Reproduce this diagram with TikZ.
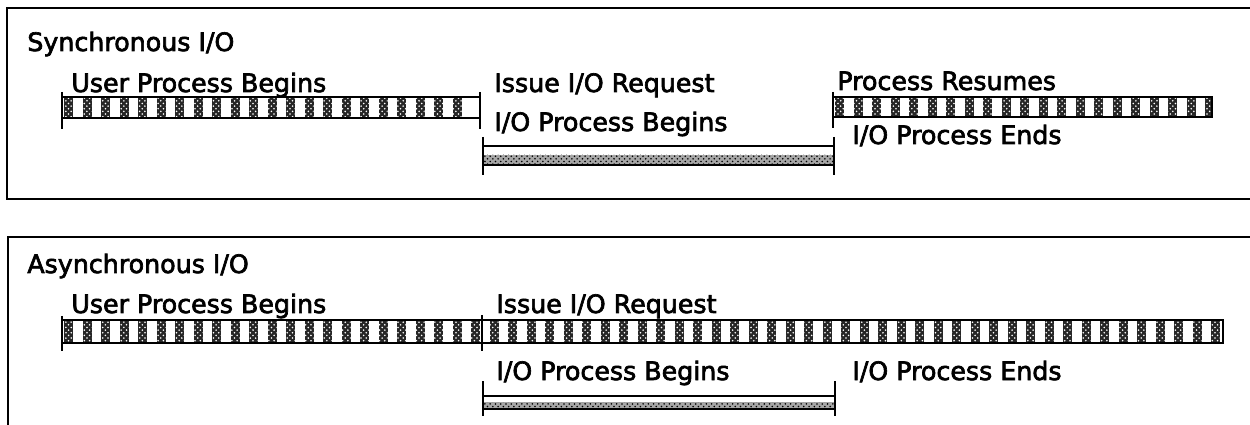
\documentclass[tikz,border=0pt]{standalone}
\usepackage{fontspec}
\setmainfont[FakeBold=2.6]{DejaVu Sans}
\usetikzlibrary{patterns}

\tikzset{
  lbl/.style={font=\fontsize{14.4}{16}\selectfont, anchor=base west, inner sep=0pt},
  frame/.style={line width=1.7pt},
  endtick/.style={line width=1.5pt},
  barframe/.style={draw, line width=1.6pt},
  block/.style={fill=black!85},
  blockdots/.style={pattern=crosshatch dots, pattern color=white},
  iodots/.style={pattern=crosshatch dots, pattern color=black},
}

\begin{document}
\begin{tikzpicture}[x=0.02cm, y=-0.02cm]
  \clip (0,0) rectangle (1250,425);
  \fill[white] (0,0) rectangle (1250,425);

  % frames, both run off the right edge
  \draw[frame] (1260,8) -- (7,8) -- (7,199) -- (1260,199);
  \draw[frame] (1260,237) -- (8,237) -- (8,440);

  % --- synchronous ---
  \node[lbl] (synTitle) at (27,51) {Synchronous I/O};
  \node[lbl] (synUser) at (71,92) {User Process Begins};
  \node[lbl] (synIssue) at (494,92) {Issue I/O Request};
  \node[lbl] (synIoBegin) at (494,131) {I/O Process Begins};
  \node[lbl] (synResume) at (837,90) {Process Resumes};
  \node[lbl] (synIoEnd) at (852,144) {I/O Process Ends};

  \coordinate (suA) at (62,97);  \coordinate (suB) at (480,118);
  \coordinate (srA) at (833,97); \coordinate (srB) at (1212,117);
  \foreach \x in {64,82.5,...,470}{
    \fill[block] (\x,98) rectangle ({\x+9},117);
    \fill[blockdots] (\x,98) rectangle ({\x+9},117);
  }
  \foreach \x in {835,853.5,...,1208}{
    \fill[block] (\x,98) rectangle ({min(\x+9,1211)},116);
    \fill[blockdots] (\x,98) rectangle ({min(\x+9,1211)},116);
  }
  \draw[barframe] (suA) rectangle (suB);
  \draw[barframe] (srA) rectangle (srB);
  \draw[endtick] (62,92) -- (62,129);
  \draw[endtick] (480,92) -- (480,129);
  \draw[endtick] (833,92) -- (833,128);

  % i/o bar
  \draw[line width=0.9pt] (483,146) -- (834,146);
  \fill[black!35] (483,155) rectangle (834,164);
  \fill[iodots] (483,155) rectangle (834,164);
  \draw[line width=1.6pt] (483,165) -- (834,165);
  \draw[endtick] (483,137) -- (483,175);
  \draw[endtick] (834,137) -- (834,175);

  % --- asynchronous ---
  \node[lbl] (asyTitle) at (27,273) {Asynchronous I/O};
  \node[lbl] (asyUser) at (71,313) {User Process Begins};
  \node[lbl] (asyIssue) at (496,313) {Issue I/O Request};
  \node[lbl] (asyIoBegin) at (496,380) {I/O Process Begins};
  \node[lbl] (asyIoEnd) at (852,380) {I/O Process Ends};

  \coordinate (auA) at (62,320); \coordinate (auB) at (1223,343);
  \foreach \x in {64,82.5,...,1218}{
    \fill[block] (\x,321) rectangle ({min(\x+9,1222)},342);
    \fill[blockdots] (\x,321) rectangle ({min(\x+9,1222)},342);
  }
  \draw[barframe] (auA) rectangle (auB);
  \draw[endtick] (62,316) -- (62,351);
  \draw[endtick] (482,315) -- (482,351);

  % i/o bar
  \draw[line width=0.9pt] (483,396) -- (835,396);
  \fill[black!35] (483,402) rectangle (835,408);
  \fill[iodots] (483,402) rectangle (835,408);
  \draw[line width=1.6pt] (483,409) -- (835,409);
  \draw[endtick] (483,381) -- (483,416);
  \draw[endtick] (835,381) -- (835,416);
\end{tikzpicture}
\end{document}
